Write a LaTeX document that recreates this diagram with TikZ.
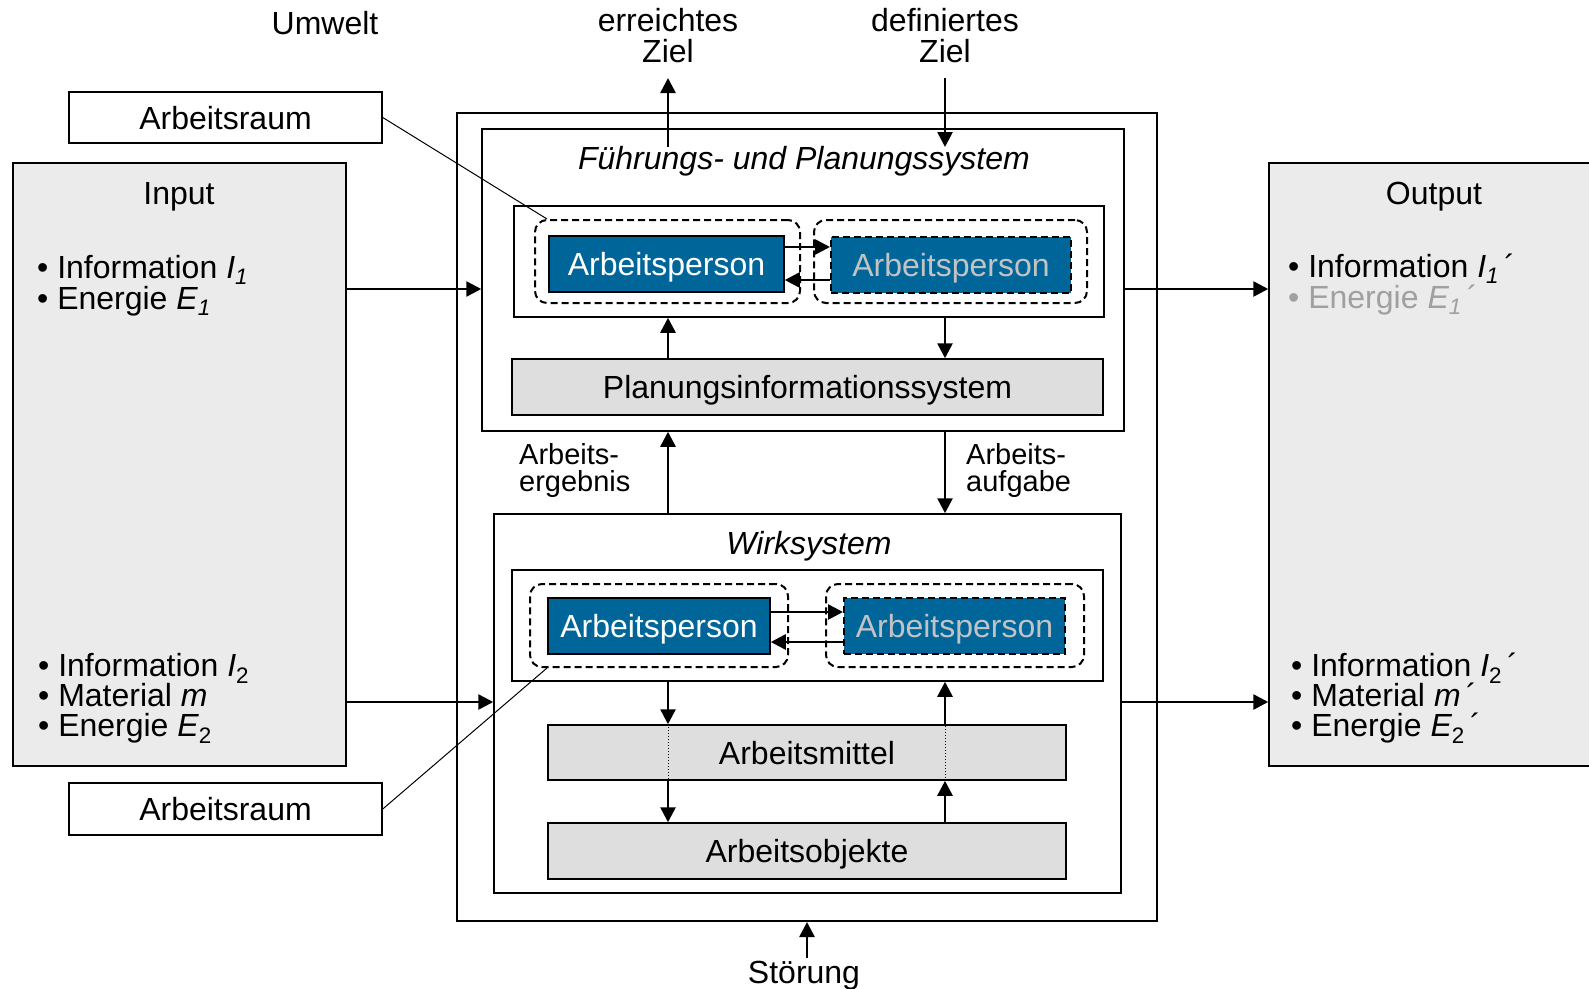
\documentclass[tikz,border=0pt]{standalone}
\usepackage{fontspec}
\setmainfont{Liberation Sans}
\usetikzlibrary{arrows.meta}
\definecolor{apblue}{RGB}{0,102,153}
\definecolor{iofill}{RGB}{235,235,235}
\definecolor{sysfill}{RGB}{222,222,222}
\definecolor{aptext}{RGB}{195,195,195}
\definecolor{greytext}{RGB}{160,160,160}
\newcommand\bigtxt{\fontsize{32}{36}\selectfont}
\newcommand\midtxt{\fontsize{29}{33}\selectfont}
\begin{document}
\begin{tikzpicture}[x=1pt,y=-1pt,
  box/.style={draw, line width=1.5pt, inner sep=0pt, font=\bigtxt, text height=23pt, text depth=0pt},
  iobox/.style={box, fill=iofill},
  sysbox/.style={box, fill=sysfill},
  apbox/.style={box, fill=apblue, text=white},
  apboxd/.style={draw, dashed, dash pattern=on 7pt off 4pt, line width=2pt, inner sep=0pt, fill=apblue, text=aptext, font=\bigtxt, text height=23pt, text depth=0pt},
  dbox/.style={draw, dash pattern=on 7pt off 4pt, line width=2pt, rounded corners=12pt, inner sep=0pt},
  txt/.style={inner sep=0pt, font=\bigtxt},
  lbl/.style={inner sep=0pt, font=\midtxt},
  arr/.style={line width=2.6pt, -{Triangle[length=15pt,width=15pt]}},
  thin/.style={line width=1pt}
]
\useasboundingbox (0,0) rectangle (1589,988);

% Input / Output
\node[iobox, minimum width=333pt, minimum height=603pt] (inp) at (179.5,464.5) {};
\node[iobox, minimum width=331pt, minimum height=603pt] (outp) at (1434.5,464.5) {};
\node[txt, anchor=base] (inpT) at (179,204) {Input};
\node[txt, anchor=base] (outT) at (1434,204) {Output};

\node[txt, anchor=base west] (i1) at (37,278) {• Information {\itshape I\textsubscript{1}}};
\node[txt, anchor=base west] (i2) at (37,309) {• Energie {\itshape E\textsubscript{1}}};
\node[txt, anchor=base west] (i3) at (38,676) {• Information {\itshape I}\textsubscript{2}};
\node[txt, anchor=base west] (i4) at (38,706) {• Material {\itshape m}};
\node[txt, anchor=base west] (i5) at (38,736) {• Energie {\itshape E}\textsubscript{2}};

\node[txt, anchor=base west] (o1) at (1288,277) {• Information {\itshape I\textsubscript{1}}\,´};
\node[txt, anchor=base west, text=greytext] (o2) at (1288,308) {• Energie {\itshape E\textsubscript{1}}\,´};
\node[txt, anchor=base west] (o3) at (1291,676) {• Information {\itshape I}\textsubscript{2}\,´};
\node[txt, anchor=base west] (o4) at (1291,706) {• Material {\itshape m}\,´};
\node[txt, anchor=base west] (o5) at (1291,736) {• Energie {\itshape E}\textsubscript{2}\,´};

% Arbeitsraum labels
\node[box, minimum width=313pt, minimum height=51pt] (ar1) at (225.5,117.5) {Arbeitsraum};
\node[box, minimum width=313pt, minimum height=52pt] (ar2) at (225.5,809) {Arbeitsraum};

% outer system
\node[box, line width=2pt, minimum width=700pt, minimum height=808pt] (outer) at (807,517) {};

% Führungs- und Planungssystem
\node[box, minimum width=642pt, minimum height=302pt] (fps) at (803,280) {};
\node[txt, anchor=base] (fpsT) at (804,169) {\itshape Führungs- und Planungssystem};
\node[box, minimum width=590pt, minimum height=111pt] (iw1) at (809,261.5) {};
\node[dbox, minimum width=265pt, minimum height=83pt] (dl1) at (667.5,261.5) {};
\node[dbox, minimum width=273pt, minimum height=83pt] (dr1) at (950.5,261.5) {};
\node[apbox, minimum width=235pt, minimum height=56pt] (ap1) at (666.5,264) {Arbeitsperson};
\node[apboxd, minimum width=240pt, minimum height=56pt] (ap2) at (951,265) {Arbeitsperson};
\node[sysbox, minimum width=591pt, minimum height=56pt] (pis) at (807.5,387) {Planungsinformationssystem};

% Wirksystem
\node[box, minimum width=627pt, minimum height=379pt] (ws) at (807.5,703.5) {};
\node[txt, anchor=base] (wsT) at (809,554) {\itshape Wirksystem};
\node[box, minimum width=591pt, minimum height=111pt] (iw2) at (807.5,625.5) {};
\node[dbox, minimum width=258pt, minimum height=83pt] (dl2) at (659,625.5) {};
\node[dbox, minimum width=258pt, minimum height=83pt] (dr2) at (955,625.5) {};
\node[apbox, minimum width=222pt, minimum height=56pt] (ap3) at (659,626) {Arbeitsperson};
\node[apboxd, minimum width=221pt, minimum height=56pt] (ap4) at (954.5,626) {Arbeitsperson};
\node[sysbox, minimum width=518pt, minimum height=55pt] (am) at (807,752.5) {Arbeitsmittel};
\node[sysbox, minimum width=518pt, minimum height=56pt] (ao) at (807,851) {Arbeitsobjekte};

% free texts
\node[txt, anchor=base] (umw) at (325,34) {Umwelt};
\node[txt, anchor=base] (err1) at (668,31) {erreichtes};
\node[txt, anchor=base] (err2) at (668,62) {Ziel};
\node[txt, anchor=base] (def1) at (945,31) {definiertes};
\node[txt, anchor=base] (def2) at (945,62) {Ziel};
\node[lbl, anchor=base west] (erg1) at (519,464) {Arbeits-};
\node[lbl, anchor=base west] (erg2) at (519,491) {ergebnis};
\node[lbl, anchor=base west] (auf1) at (966,464) {Arbeits-};
\node[lbl, anchor=base west] (auf2) at (966,491) {aufgabe};
\node[txt, anchor=base] (stoer) at (804,983) {Störung};

% helper coordinates
\coordinate (xa) at (668,0);
\coordinate (xb) at (945,0);
\coordinate (y1) at (0,289);
\coordinate (y2) at (0,702);
\coordinate (ya) at (0,247);
\coordinate (yb) at (0,280);
\coordinate (yc) at (0,612);
\coordinate (yd) at (0,642);
\coordinate (e1) at (668,147);
\coordinate (e2) at (668,78);
\coordinate (d1) at (945,78);
\coordinate (d2) at (945,147);
\coordinate (s1) at (807,958);

% connectors
\draw[arr] (e1) -- (e2);
\draw[arr] (d1) -- (d2);
\draw[arr] (inp.east |- y1) -- (fps.west |- y1);
\draw[arr] (inp.east |- y2) -- (ws.west |- y2);
\draw[arr] (fps.east |- y1) -- (outp.west |- y1);
\draw[arr] (ws.east |- y2) -- (outp.west |- y2);

\draw[arr] (ap1.east |- ya) -- (ap2.west |- ya);
\draw[arr] (ap2.west |- yb) -- (ap1.east |- yb);
\draw[arr] (ap3.east |- yc) -- (ap4.west |- yc);
\draw[arr] (ap4.west |- yd) -- (ap3.east |- yd);

\draw[arr] (xa |- pis.north) -- (xa |- iw1.south);
\draw[arr] (xb |- iw1.south) -- (xb |- pis.north);
\draw[arr] (xa |- ws.north) -- (xa |- fps.south);
\draw[arr] (xb |- fps.south) -- (xb |- ws.north);

\draw[arr] (xa |- iw2.south) -- (xa |- am.north);
\draw[thin, dotted] (xa |- am.north) -- (xa |- am.south);
\draw[arr] (xa |- am.south) -- (xa |- ao.north);
\draw[arr] (xb |- ao.north) -- (xb |- am.south);
\draw[thin, dotted] (xb |- am.south) -- (xb |- am.north);
\draw[arr] (xb |- am.north) -- (xb |- iw2.south);

\draw[arr] (s1) -- (s1 |- outer.south);

\draw[thin] (ar1.east) -- ([xshift=13pt]dl1.north west);
\draw[thin] (ar2.east) -- ([xshift=18pt]dl2.south west);
\end{tikzpicture}
\end{document}
